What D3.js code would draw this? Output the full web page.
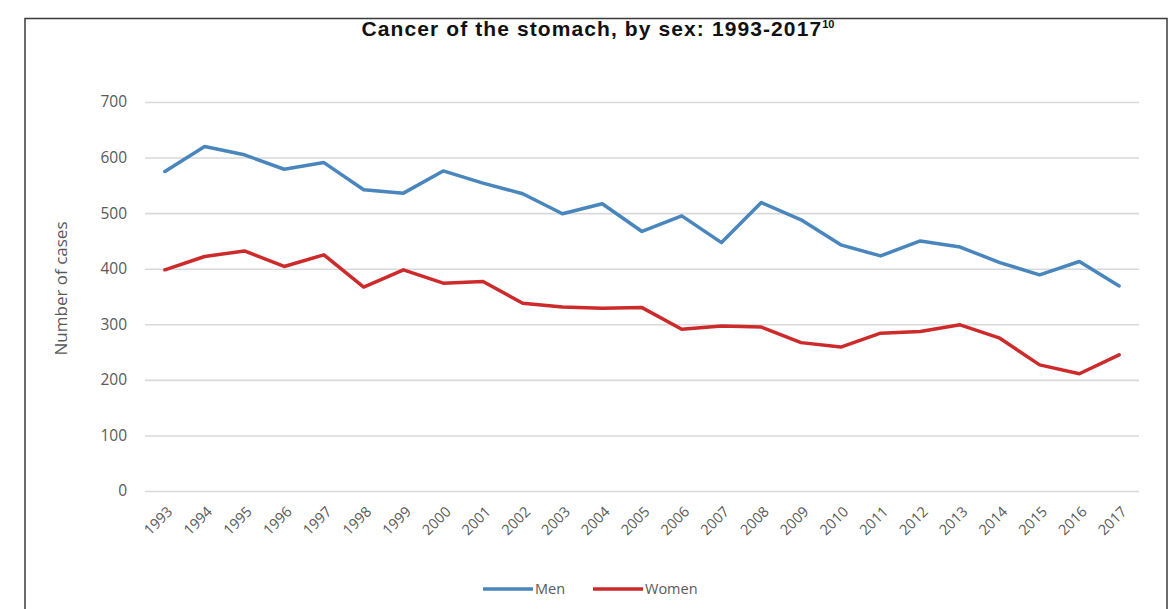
<!DOCTYPE html>
<html><head><meta charset="utf-8">
<script src="https://cdn.jsdelivr.net/npm/d3@7"></script>
<style>body{margin:0;background:#fff;} svg{display:block;}</style>
</head><body><svg id="c" width="1168" height="609"></svg>
<script>
const years = ["1993","1994","1995","1996","1997","1998","1999","2000","2001","2002","2003","2004","2005","2006","2007","2008","2009","2010","2011","2012","2013","2014","2015","2016","2017"];
const menValues = [575, 620, 605, 579, 591, 542, 536, 576, 554, 535, 499, 517, 467, 495, 447, 519, 488, 443, 423, 450, 439, 411, 389, 413, 369];
const womenValues = [398, 422, 432, 404, 425, 367, 398, 374, 377, 338, 331, 329, 330, 291, 297, 295, 267, 259, 284, 287, 299, 275, 227, 211, 245];
const yTicks = [0, 100, 200, 300, 400, 500, 600, 700];
const seriesNames = ["Men", "Women"];
const seriesColors = ["#4a86be", "#cd2b2b"];
const titleText = "Cancer of the stomach, by sex: 1993-2017";
const titleSup = "10";
const yAxisTitle = "Number of cases";

const svg = d3.select("#c");
const font = "'Open Sans', 'Liberation Sans', sans-serif";
const grey = "#595959";

// frame
svg.append("rect").attr("x", 25).attr("y", 18.5).attr("width", 1142).attr("height", 640)
  .attr("fill", "none").attr("stroke", "#3a3a3a").attr("stroke-width", 1.5);

// title
const t = svg.append("text").attr("x", 598).attr("y", 36).attr("text-anchor", "middle")
  .attr("font-family", "'Liberation Sans', Arial, sans-serif").attr("font-weight", "bold")
  .attr("font-size", 21).attr("letter-spacing", 1.1).attr("fill", "#111");
t.append("tspan").text(titleText);
t.append("tspan").attr("font-size", 11).attr("letter-spacing", 0).attr("dy", -8).text(titleSup);

const pLeft = 145, pRight = 1139, pTop = 102, pBottom = 491;
const x = d3.scaleBand().domain(years).range([pLeft, pRight]);
const y = d3.scaleLinear().domain([0, 700]).range([pBottom, pTop]);

// y grid + labels
const ya = svg.append("g").attr("transform", `translate(${pLeft},0)`)
  .call(d3.axisLeft(y).tickValues(yTicks).tickSize(-(pRight - pLeft)).tickPadding(18));
ya.select(".domain").remove();
ya.selectAll(".tick line").attr("stroke", "#d9d9d9").attr("stroke-width", 1.6);
ya.selectAll(".tick text").attr("font-family", font).attr("font-size", 15.5).attr("fill", grey);

// x labels
const xa = svg.append("g").attr("transform", `translate(0,${pBottom})`)
  .call(d3.axisBottom(x).tickSize(0));
xa.select(".domain").remove();
xa.selectAll(".tick text").attr("font-family", font).attr("font-size", 14.5).attr("fill", grey)
  .attr("text-anchor", "end").attr("y", 0).attr("dy", "0.35em")
  .attr("transform", "translate(5,18) rotate(-45)");

// y axis title
svg.append("text").attr("transform", `translate(67,${(pTop + pBottom) / 2 - 8}) rotate(-90)`)
  .attr("text-anchor", "middle").attr("font-family", font).attr("font-size", 17)
  .attr("fill", grey).text(yAxisTitle);

// lines
const line = d3.line().x((d, i) => x(years[i]) + x.bandwidth() / 2).y(d => y(d));
[menValues, womenValues].forEach((vals, k) => {
  svg.append("path").datum(vals).attr("d", line).attr("fill", "none")
    .attr("stroke", seriesColors[k]).attr("stroke-width", 3.5)
    .attr("stroke-linejoin", "round").attr("stroke-linecap", "round");
});

// legend
const legX = [483, 593];
seriesNames.forEach((n, k) => {
  svg.append("line").attr("x1", legX[k]).attr("x2", legX[k] + 50).attr("y1", 589).attr("y2", 589)
    .attr("stroke", seriesColors[k]).attr("stroke-width", 3.5);
  svg.append("text").attr("x", legX[k] + 52).attr("y", 594).attr("font-family", font)
    .attr("font-size", 14.5).attr("fill", grey).text(n);
});
</script></body></html>
